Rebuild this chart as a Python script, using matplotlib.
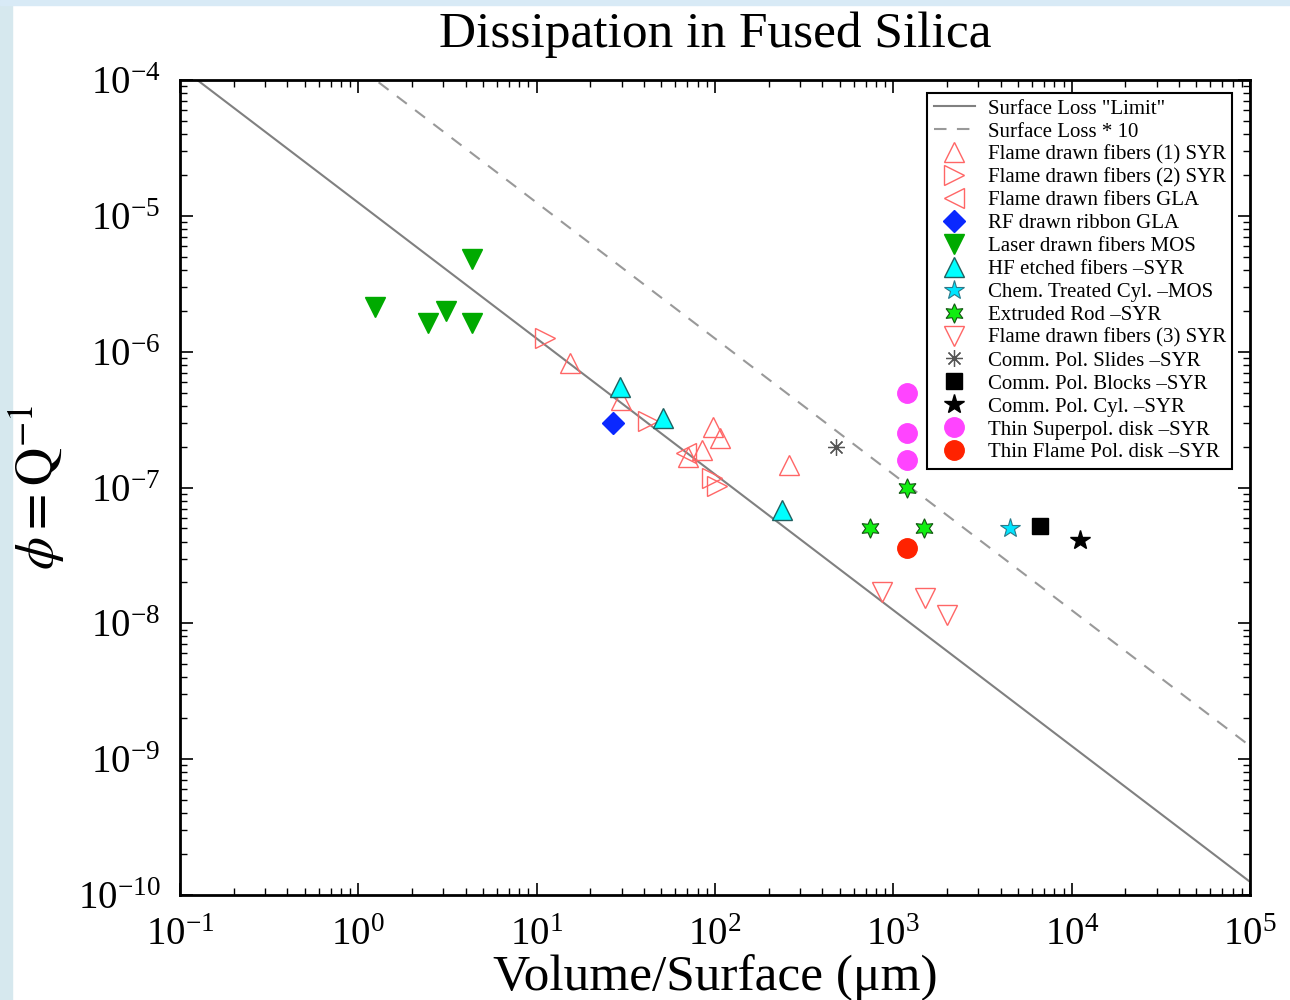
import numpy as np
import matplotlib.pyplot as plt
from matplotlib.patches import Rectangle

plt.rcParams['font.family'] = ['Liberation Serif', 'DejaVu Serif']
plt.rcParams['mathtext.fontset'] = 'stix'

# data: volume/surface (um), phi
flame1_x = [15.4, 29.9, 97, 107, 85, 71, 261]
flame1_y = [8.2e-7, 4.4e-7, 2.8e-7, 2.3e-7, 1.9e-7, 1.67e-7, 1.46e-7]
flame2_x = [11.1, 42, 96, 103]
flame2_y = [1.26e-6, 3.1e-7, 1.17e-7, 1.02e-7]
flamegla_x = [69]
flamegla_y = [1.8e-7]
rf_x = [26.8]
rf_y = [3.0e-7]
laser_x = [1.24, 2.46, 3.10, 4.35, 4.35]
laser_y = [2.13e-6, 1.63e-6, 1.99e-6, 1.63e-6, 4.8e-6]
hf_x = [29.4, 51, 238]
hf_y = [5.5e-7, 3.24e-7, 6.8e-8]
chem_x = [4520]
chem_y = [5.0e-8]
extr_x = [1200, 741, 1490]
extr_y = [9.9e-8, 5.0e-8, 5.0e-8]
flame3_x = [865, 1500, 2000]
flame3_y = [1.7e-8, 1.53e-8, 1.15e-8]
slides_x = [478]
slides_y = [2.0e-7]
blocks_x = [6650]
blocks_y = [5.2e-8]
cyl_x = [11200]
cyl_y = [4.1e-8]
superpol_x = [1195, 1195, 1195]
superpol_y = [4.96e-7, 2.52e-7, 1.59e-7]
flamepol_x = [1195]
flamepol_y = [3.6e-8]

surf_coef = 1.25e-5
vs = np.logspace(-1, 5, 200)

fig = plt.figure(figsize=(12.9, 10), dpi=100)
# light backdrop strips at the left and top edges
fig.patches.append(Rectangle((0, 0), 0.009, 1, transform=fig.transFigure, color='#d6e8ee', zorder=-1))
fig.patches.append(Rectangle((0, 0.995), 1, 0.005, transform=fig.transFigure, color='#d8eaf6', zorder=-1))

ax = fig.add_axes([0.1395, 0.105, 0.8295, 0.815])

ax.plot(vs, surf_coef / vs, '-', color='#808080', lw=1.5, label='Surface Loss "Limit"')
ax.plot(vs, 10 * surf_coef / vs, '--', color='#999999', lw=1.5, dashes=(6, 5), label='Surface Loss * 10')

op = dict(ls='none', mfc='none', mec='#ff6666', mew=1.0, ms=15)
ax.plot(flame1_x, flame1_y, marker='^', label='Flame drawn fibers (1) SYR', **op)
ax.plot(flame2_x, flame2_y, marker='>', label='Flame drawn fibers (2) SYR', **op)
ax.plot(flamegla_x, flamegla_y, marker='<', label='Flame drawn fibers GLA', **op)
ax.plot(rf_x, rf_y, ls='none', marker='D', ms=11, color='#0a28ff', mec='#0a28ff', label='RF drawn ribbon GLA')
ax.plot(laser_x, laser_y, ls='none', marker='v', ms=15, color='#00aa00', mec='#00aa00', label='Laser drawn fibers MOS')
ax.plot(hf_x, hf_y, ls='none', marker='^', ms=15, color='#00ffff', mec='#206060', mew=1.0, label='HF etched fibers \u2013SYR')
ax.plot(chem_x, chem_y, ls='none', marker='*', ms=15, color='#00e5ff', mec='#2a7a8a', mew=0.8, label='Chem. Treated Cyl. \u2013MOS')
ax.plot(extr_x, extr_y, ls='none', marker=(6, 1, 0), ms=14, color='#11ee11', mec='#115511', mew=0.8, label='Extruded Rod \u2013SYR')
ax.plot(flame3_x, flame3_y, marker='v', label='Flame drawn fibers (3) SYR', **op)
ax.plot(slides_x, slides_y, ls='none', marker=(8, 2, 0), ms=12, color='#555555', mew=0.9, label='Comm. Pol. Slides \u2013SYR')
ax.plot(blocks_x, blocks_y, ls='none', marker='s', ms=11, color='black', label='Comm. Pol. Blocks \u2013SYR')
ax.plot(cyl_x, cyl_y, ls='none', marker='*', ms=15, color='black', label='Comm. Pol. Cyl. \u2013SYR')
ax.plot(superpol_x, superpol_y, ls='none', marker='o', ms=14, color='#ff44ff', mec='#ff44ff', label='Thin Superpol. disk \u2013SYR')
ax.plot(flamepol_x, flamepol_y, ls='none', marker='o', ms=14, color='#ff2200', mec='#ff2200', label='Thin Flame Pol. disk \u2013SYR')

ax.set_xscale('log')
ax.set_yscale('log')
ax.set_xlim(1e-1, 1e5)
ax.set_ylim(1e-10, 1e-4)
ax.set_xticks([10.0 ** k for k in range(-1, 6)])
ax.set_yticks([10.0 ** k for k in range(-10, -3)])
ax.tick_params(which='both', direction='in', top=True, right=True, labelsize=28)
ax.tick_params(which='major', length=9, width=1.2)
ax.tick_params(which='minor', length=5, width=1.0)
ax.tick_params(axis='x', pad=16)
ax.tick_params(axis='y', pad=14)
for s in ax.spines.values():
    s.set_linewidth(2)

ax.set_title('Dissipation in Fused Silica', fontsize=37, pad=24)
ax.set_xlabel('Volume/Surface (\u03bcm)', fontsize=37, labelpad=0)
ax.set_ylabel('$\\phi = \\mathrm{Q}^{-1}$', fontsize=38, labelpad=8)

leg = ax.legend(loc='upper right', bbox_to_anchor=(0.993, 0.997), fontsize=15, frameon=True,
                fancybox=False, edgecolor='black', framealpha=1, labelspacing=0.16,
                handlelength=2.0, handletextpad=0.6, borderpad=0.3, markerscale=1.0)
leg.get_frame().set_linewidth(1.5)

plt.savefig('out.png', dpi=100)
